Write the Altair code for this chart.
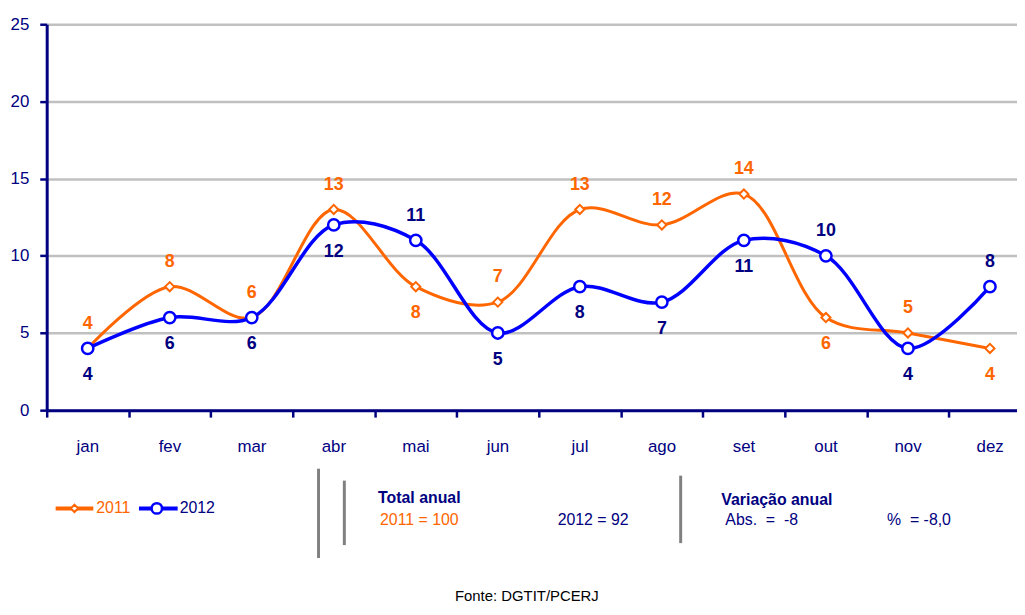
import altair as alt
import pandas as pd

months = ["jan", "fev", "mar", "abr", "mai", "jun", "jul", "ago", "set", "out", "nov", "dez"]
v2011 = [4, 8, 6, 13, 8, 7, 13, 12, 14, 6, 5, 4]
v2012 = [4, 6, 6, 12, 11, 5, 8, 7, 11, 10, 4, 8]
pos2011 = ["up", "up", "up", "up", "down", "up", "up", "up", "up", "down", "up", "down"]
pos2012 = ["down", "down", "down", "down", "up", "down", "down", "down", "down", "up", "down", "up"]
y_ticks = [0, 5, 10, 15, 20, 25]

ORANGE = "#FF6600"
BLUE = "#0000FF"
NAVY = "#000080"
FONT = "Liberation Sans"

rows = []
for i, m in enumerate(months):
    rows.append({"idx": i + 0.5, "mes": m, "serie": "2011", "valor": v2011[i], "pos": pos2011[i]})
for i, m in enumerate(months):
    rows.append({"idx": i + 0.5, "mes": m, "serie": "2012", "valor": v2012[i], "pos": pos2012[i]})
df = pd.DataFrame(rows)
d11 = df[df.serie == "2011"]
d12 = df[df.serie == "2012"]

month_expr = "[" + ",".join("'%s'" % m for m in months) + "][datum.value]"

x_enc = alt.X(
    "idx:Q",
    scale=alt.Scale(domain=[0, 11.83], nice=False, zero=False),
    axis=alt.Axis(
        values=list(range(12)), labelExpr=month_expr, labelOffset=41, title=None,
        grid=False, domainColor=NAVY, domainWidth=3, tickColor=NAVY, tickWidth=2.5,
        tickSize=7, labelColor=NAVY, labelFont=FONT, labelFontSize=17, labelPadding=22,
        labelAlign="center",
    ),
)
y_enc = alt.Y(
    "valor:Q",
    scale=alt.Scale(domain=[0, 25], nice=False),
    axis=alt.Axis(
        values=y_ticks, title=None, grid=True, gridColor="#C0C0C0", gridWidth=2.5,
        domainColor=NAVY, domainWidth=3, tickColor=NAVY, tickWidth=2.5, tickSize=7,
        labelColor=NAVY, labelFont=FONT, labelFontSize=17, labelPadding=11,
    ),
)

line11 = alt.Chart(d11).mark_line(color=ORANGE, strokeWidth=3, interpolate="catmull-rom").encode(x=x_enc, y=y_enc)
pts11 = alt.Chart(d11).mark_point(shape="diamond", size=85, filled=True, fill="white",
                                  stroke=ORANGE, strokeWidth=2, opacity=1).encode(x="idx:Q", y="valor:Q")
line12 = alt.Chart(d12).mark_line(color=BLUE, strokeWidth=3.5, interpolate="catmull-rom").encode(x="idx:Q", y="valor:Q")
pts12 = alt.Chart(d12).mark_point(shape="circle", size=130, filled=True, fill="white",
                                  stroke=BLUE, strokeWidth=2.5, opacity=1).encode(x="idx:Q", y="valor:Q")


def labels(data, pos, color, dy):
    return alt.Chart(data).transform_filter(alt.datum.pos == pos).mark_text(
        font=FONT, fontSize=18, fontWeight="bold", color=color, dy=dy, baseline="middle"
    ).encode(x="idx:Q", y="valor:Q", text="valor:Q")


lab = [
    labels(d11, "up", ORANGE, -25), labels(d11, "down", ORANGE, 27),
    labels(d12, "up", NAVY, -25), labels(d12, "down", NAVY, 27),
]

one = pd.DataFrame({"k": [0]})


def txt(s, x, y, color, size=16, bold=False, align="left"):
    return alt.Chart(one).mark_text(
        font=FONT, fontSize=size, fontWeight="bold" if bold else "normal", color=color,
        align=align, baseline="middle"
    ).encode(x=alt.value(x), y=alt.value(y), text=alt.value(s))


def vbar(x, y1, y2):
    return alt.Chart(one).mark_rule(color="#808080", strokeWidth=3).encode(
        x=alt.value(x), y=alt.value(y1), y2=alt.value(y2))


def hseg(x1, x2, y, color):
    return alt.Chart(one).mark_rule(color=color, strokeWidth=4).encode(
        x=alt.value(x1), x2=alt.value(x2), y=alt.value(y))


NB = "\u00a0"
ann = [
    hseg(9, 47, 488, ORANGE),
    alt.Chart(one).mark_point(shape="diamond", size=55, filled=True, fill="white", stroke=ORANGE,
                              strokeWidth=2, opacity=1).encode(x=alt.value(28), y=alt.value(488)),
    txt("2011", 50, 488, ORANGE, 16),
    hseg(93, 132, 488, BLUE),
    alt.Chart(one).mark_point(shape="circle", size=110, filled=True, fill="white", stroke=BLUE,
                              strokeWidth=2.5, opacity=1).encode(x=alt.value(111), y=alt.value(488)),
    txt("2012", 134, 488, NAVY, 16),
    vbar(274, 448, 538),
    vbar(300, 460, 525),
    vbar(639, 455, 523),
    txt("Total anual", 334, 478, NAVY, 16, bold=True),
    txt("2011" + NB + "=" + NB + "100", 336, 500, ORANGE, 16),
    txt("2012" + NB + "=" + NB + "92", 515, 500, NAVY, 16),
    txt("Variação anual", 680, 480, NAVY, 16, bold=True),
    txt("Abs." + NB + NB + "=" + NB + NB + "-8", 684, 500, NAVY, 16),
    txt("%" + NB + NB + "=" + NB + "-8,0", 847, 500, NAVY, 16),
    txt("Fonte: DGTIT/PCERJ", 484, 576, "#000000", 15, align="center"),
]

chart = alt.layer(line11, pts11, line12, pts12, *lab, *ann).properties(
    width=978, height=389,
    autosize=alt.AutoSizeParams(type="none"),
    padding={"left": 39, "top": 14, "right": 0, "bottom": 192},
).configure_view(stroke=None)

chart.save("out.html", embed_options={"renderer": "svg", "actions": False})
